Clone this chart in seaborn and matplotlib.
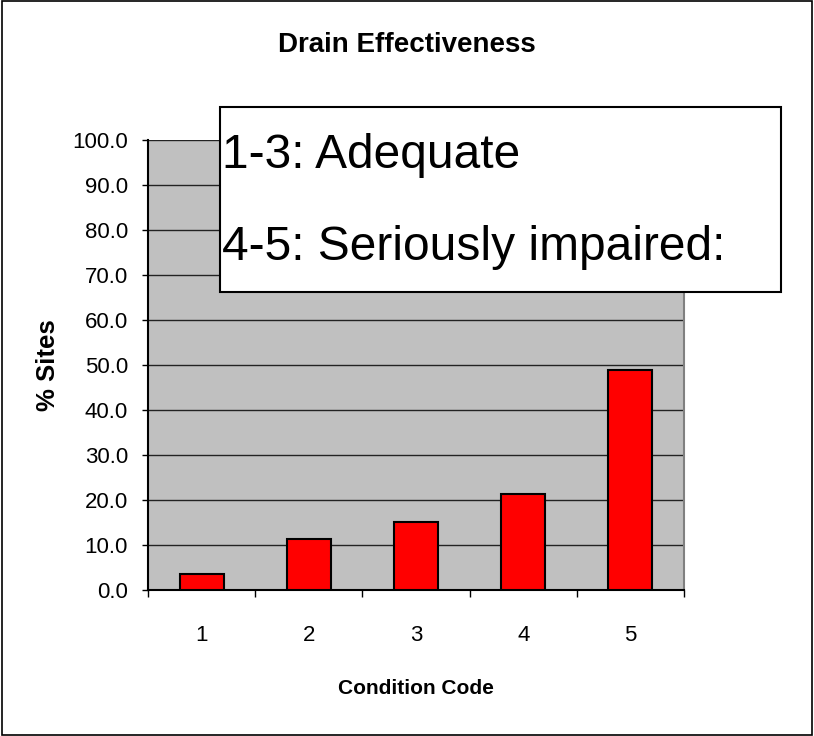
import matplotlib
matplotlib.use("Agg")
import matplotlib.pyplot as plt
from matplotlib.patches import Rectangle
import pandas as pd
import seaborn as sns
import numpy as np

# values
codes = ["1", "2", "3", "4", "5"]
pct_sites = [3.6, 11.4, 15.1, 21.3, 48.8]
y_ticks = [0, 10, 20, 30, 40, 50, 60, 70, 80, 90, 100]
note_lines = ["1-3: Adequate", "4-5: Seriously impaired:"]

sns.set_style("white")
plt.rcParams['font.family'] = ['Liberation Sans', 'DejaVu Sans']
plt.rcParams['text.color'] = 'black'
plt.rcParams['axes.labelcolor'] = 'black'
plt.rcParams['xtick.color'] = 'black'
plt.rcParams['ytick.color'] = 'black'

df = pd.DataFrame({"code": codes, "pct": pct_sites})

W, H = 814, 736
fig = plt.figure(figsize=(W / 100, H / 100), dpi=100)
ax = fig.add_axes([148 / W, 1 - 590 / H, (684 - 148) / W, (590 - 140) / H])

sns.barplot(data=df, x="code", y="pct", color="#FF0000", saturation=1,
            edgecolor="black", linewidth=1.5, width=0.41, ax=ax, zorder=3)

ax.set_facecolor("#C0C0C0")
ax.set_xlim(-0.5, 4.5)
ax.set_ylim(0, 100)
ax.set_yticks(y_ticks)
ax.set_yticklabels([f"{v:.1f}" for v in y_ticks], fontsize=16)
ax.yaxis.grid(True, color="#222222", linewidth=1)
ax.set_axisbelow(True)

ax.set_xticks(range(len(codes)))
ax.set_xticklabels(codes, fontsize=16)
ax.set_xticks(np.arange(-0.5, len(codes)), minor=True)
ax.tick_params(axis="x", which="major", length=0, pad=25)
ax.tick_params(axis="x", which="minor", direction="out", length=5, width=1, color="black", bottom=True)
ax.tick_params(axis="y", direction="out", length=4.5, width=1, color="black", left=True, pad=10)

for side in ["left", "bottom"]:
    ax.spines[side].set_color("black")
    ax.spines[side].set_linewidth(1.5)
ax.spines["top"].set_visible(False)
ax.spines["right"].set_color("#808080")
ax.spines["right"].set_linewidth(1.5)

ax.set_xlabel("Condition Code", fontsize=15, fontweight="bold", labelpad=24)
ax.set_ylabel("% Sites", fontsize=18.5, fontweight="bold", labelpad=9)

fig.text(407 / W, 1 - 45 / H, "Drain Effectiveness", ha="center", va="center",
         fontsize=20, fontweight="bold")

# note box over the plot
fig.add_artist(Rectangle((220 / W, 1 - 292 / H), 561 / W, 185 / H, transform=fig.transFigure,
                         facecolor="white", edgecolor="black", linewidth=1.5, zorder=5))
fig.text(222 / W, 1 - 168 / H, note_lines[0], fontsize=34.5, va="baseline", ha="left", zorder=6)
fig.text(222 / W, 1 - 260 / H, note_lines[1], fontsize=34.5, va="baseline", ha="left", zorder=6)

# outer chart border
fig.add_artist(Rectangle((0.002, 0.002), 0.996, 0.996, transform=fig.transFigure,
                         fill=False, edgecolor="black", linewidth=1.2))

fig.savefig("out.png", dpi=100)
